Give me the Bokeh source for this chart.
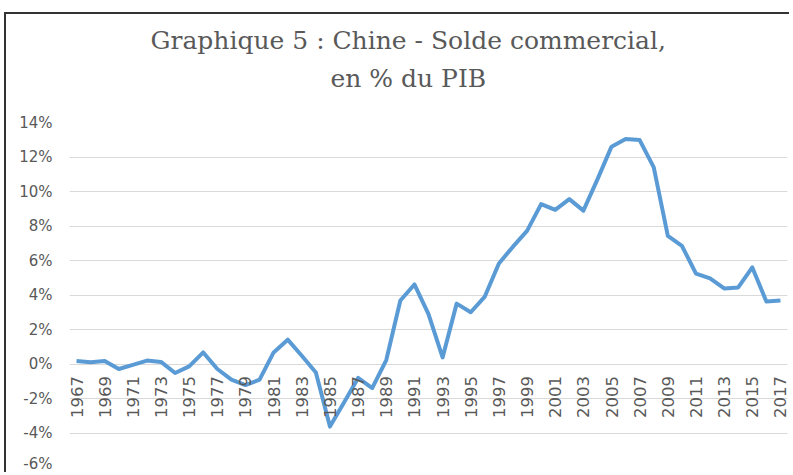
from bokeh.plotting import figure
from bokeh.models import FixedTicker, PrintfTickFormatter, Range1d, Title
from bokeh.embed import file_html
from bokeh.resources import INLINE

# ---- data ----
years = list(range(1967, 2018))
trade_balance_pct = [
    0.17, 0.10, 0.17, -0.29, -0.05, 0.20, 0.12, -0.52, -0.14, 0.67,
    -0.29, -0.91, -1.22, -0.91, 0.67, 1.41, 0.48, -0.49, -3.63, -2.23,
    -0.81, -1.40, 0.23, 3.68, 4.61, 2.89, 0.38, 3.50, 3.00, 3.91,
    5.83, 6.80, 7.72, 9.27, 8.94, 9.56, 8.89, 10.70, 12.60, 13.04,
    12.98, 11.40, 7.43, 6.85, 5.24, 4.96, 4.38, 4.44, 5.60, 3.62,
    3.68,
]
y_ticks = [-6, -4, -2, 0, 2, 4, 6, 8, 10, 12, 14]
x_label_years = years[::2]
title_line1 = "Graphique 5 : Chine - Solde commercial,"
title_line2 = "en % du PIB"

GRAY = "#595959"
SERIF = "DejaVu Serif"

p = figure(
    width=785, height=460,
    output_backend="svg", toolbar_location=None,
    x_range=Range1d(1966.5, 2017.5), y_range=Range1d(-6, 14),
    title=None,
)
p.min_border_left = 63
p.min_border_right = 4
p.min_border_top = 108
p.min_border_bottom = 7
p.outline_line_color = None
p.background_fill_color = "white"
p.border_fill_color = "white"
p.styles = {"border-top": "2px solid #333333", "border-left": "2px solid #333333",
            "margin-top": "12px", "margin-left": "4px"}

# titles (outer added last)
p.add_layout(Title(text=title_line2, align="left", offset=261,
                   text_font=SERIF, text_font_size="25px",
                   text_font_style="normal", text_color=GRAY, standoff=60), "above")
p.add_layout(Title(text=title_line1, align="left", offset=81,
                   text_font=SERIF, text_font_size="25px",
                   text_font_style="normal", text_color=GRAY, standoff=-46), "above")

# y axis
p.yaxis.ticker = FixedTicker(ticks=y_ticks)
p.yaxis.formatter = PrintfTickFormatter(format="%d%%")
p.yaxis.axis_line_color = None
p.yaxis.major_tick_line_color = None
p.yaxis.minor_tick_line_color = None
p.yaxis.major_tick_out = 0
p.yaxis.major_label_standoff = 17
p.yaxis.major_label_text_font = "DejaVu Sans"
p.yaxis.major_label_text_font_size = "15px"
p.yaxis.major_label_text_color = GRAY

# x axis placed at y = 0
p.xaxis.ticker = FixedTicker(ticks=x_label_years)
p.xaxis.fixed_location = 0
p.xaxis.axis_line_color = None
p.xaxis.major_tick_line_color = None
p.xaxis.minor_tick_line_color = None
p.xaxis.major_tick_out = 0
p.xaxis.major_label_standoff = 12
p.xaxis.major_label_orientation = 3.14159265 / 2
p.xaxis.major_label_text_font = "DejaVu Sans"
p.xaxis.major_label_text_font_size = "16.5px"
p.xaxis.major_label_text_color = GRAY

p.xgrid.grid_line_color = None
p.ygrid.ticker = FixedTicker(ticks=y_ticks)
p.ygrid.grid_line_color = "#D9D9D9"
p.ygrid.grid_line_width = 1

p.line(years, trade_balance_pct, line_color="#5B9BD5", line_width=4, line_join="round")

open("out.html", "w").write(file_html(p, INLINE))
